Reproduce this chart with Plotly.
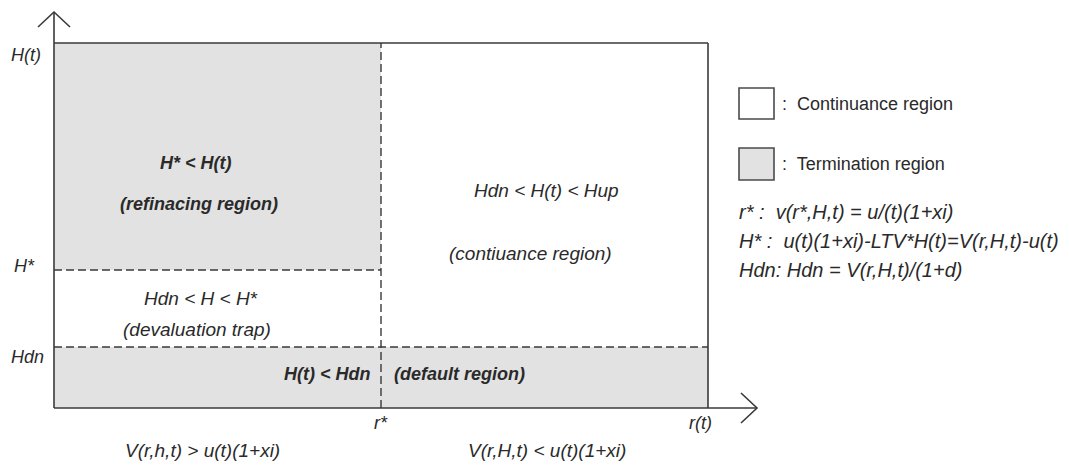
import plotly.graph_objects as go

# ---------------- data (diagram values, in axis units) ----------------
boundaries_x = {"origin": 0.0, "r_star": 0.5, "r_t": 1.0}
boundaries_y = {"origin": 0.0, "H_dn": 0.167, "H_star": 0.378, "H_t": 1.0}
axis_tick_labels_y = ["H(t)", "H*", "Hdn"]
axis_tick_labels_x = ["r*", "r(t)"]
region_labels = ["H* < H(t)", "(refinacing region)", "Hdn < H(t) < Hup", "(contiuance region)",
                 "Hdn < H < H*", "(devaluation trap)", "H(t) < Hdn", "(default region)"]
bottom_labels = ["V(r,h,t) > u(t)(1+xi)", "V(r,H,t) < u(t)(1+xi)"]
legend_labels = [":\u00a0 Continuance region", ":\u00a0 Termination region"]
formula_labels = ["r* :\u00a0 v(r*,H,t) = u/(t)(1+xi)",
                  "H* :\u00a0 u(t)(1+xi)-LTV*H(t)=V(r,H,t)-u(t)",
                  "Hdn: Hdn = V(r,H,t)/(1+d)"]

# ---------------- layout helpers ----------------
W, H = 1069, 465
OFF = 8                    # page body margin
X0PX, XSCALE = 54, 654     # screen pixel of r=0, pixels per unit
Y0PX, YSCALE = 408, 365    # screen pixel of H=0, pixels per unit


def ux(px):
    return (px - X0PX) / XSCALE


def uy(py):
    return (Y0PX - py) / YSCALE


r0, rs, rt = boundaries_x["origin"], boundaries_x["r_star"], boundaries_x["r_t"]
h0, hdn, hst, ht = (boundaries_y["origin"], boundaries_y["H_dn"],
                    boundaries_y["H_star"], boundaries_y["H_t"])

LINE = "#3a3a3a"
FILL = "#e2e2e2"
TXT = "#2a2a2a"
FONT = "Liberation Sans, Arial, sans-serif"

fig = go.Figure()

shapes = []
# shaded termination regions
shapes.append(dict(type="rect", x0=r0, x1=rs, y0=hst, y1=ht, fillcolor=FILL,
                   line=dict(width=0), layer="below"))
shapes.append(dict(type="rect", x0=r0, x1=rt, y0=h0, y1=hdn, fillcolor=FILL,
                   line=dict(width=0), layer="below"))
# solid borders
shapes.append(dict(type="line", x0=r0, x1=rt, y0=ht, y1=ht, line=dict(color=LINE, width=1.6)))
shapes.append(dict(type="line", x0=rt, x1=rt, y0=h0, y1=ht, line=dict(color=LINE, width=1.6)))
# dashed boundaries
DASH = "8px,4px"
shapes.append(dict(type="line", x0=rs, x1=rs, y0=h0, y1=ht, line=dict(color=LINE, width=1.4, dash=DASH)))
shapes.append(dict(type="line", x0=r0, x1=rs, y0=hst, y1=hst, line=dict(color=LINE, width=1.4, dash=DASH)))
shapes.append(dict(type="line", x0=r0, x1=rt, y0=hdn, y1=hdn, line=dict(color=LINE, width=1.4, dash=DASH)))

# axes with open arrow heads
y_axis_top = uy(12)
x_axis_end = ux(757)
ax_dx, ax_dy = 16 / XSCALE, 15 / YSCALE
fig.add_trace(go.Scatter(x=[r0, r0], y=[h0, y_axis_top], mode="lines",
                         line=dict(color=LINE, width=1.6), hoverinfo="skip", showlegend=False))
fig.add_trace(go.Scatter(x=[r0 - ax_dx, r0, r0 + ax_dx], y=[y_axis_top - ax_dy, y_axis_top, y_axis_top - ax_dy],
                         mode="lines", line=dict(color=LINE, width=1.6), hoverinfo="skip", showlegend=False))
fig.add_trace(go.Scatter(x=[r0, x_axis_end], y=[h0, h0], mode="lines",
                         line=dict(color=LINE, width=1.6), hoverinfo="skip", showlegend=False))
fig.add_trace(go.Scatter(x=[x_axis_end - ax_dx, x_axis_end, x_axis_end - ax_dx],
                         y=[h0 + ax_dy, h0, h0 - ax_dy],
                         mode="lines", line=dict(color=LINE, width=1.6), hoverinfo="skip", showlegend=False))

# legend boxes
shapes.append(dict(type="rect", x0=ux(739), x1=ux(774), y0=uy(88), y1=uy(119), fillcolor="white",
                   line=dict(color="#4a4a4a", width=1.6)))
shapes.append(dict(type="rect", x0=ux(739), x1=ux(774), y0=uy(148), y1=uy(180), fillcolor=FILL,
                   line=dict(color="#4a4a4a", width=1.6)))

annotations = []


def add_text(text, x, y, xanchor="center", size=18, bold=False, italic=True):
    annotations.append(dict(text=text, x=x, y=y, xref="x", yref="y", showarrow=False,
                            xanchor=xanchor, yanchor="middle",
                            font=dict(family=FONT, size=size, color=TXT,
                                      style="italic" if italic else "normal",
                                      weight="bold" if bold else "normal")))


# y-axis labels
add_text(axis_tick_labels_y[0], ux(43), uy(55), xanchor="right")
add_text(axis_tick_labels_y[1], ux(37), uy(266), xanchor="right")
add_text(axis_tick_labels_y[2], ux(46), uy(357), xanchor="right")
# x-axis labels
add_text(axis_tick_labels_x[0], rs, uy(423))
add_text(axis_tick_labels_x[1], ux(700), uy(423))
# region labels
add_text(region_labels[0], ux(196), uy(163), bold=True)
add_text(region_labels[1], ux(199), uy(204), bold=True)
add_text(region_labels[2], ux(546), uy(190), size=19)
add_text(region_labels[3], ux(530), uy(253), size=19)
add_text(region_labels[4], ux(201), uy(298), size=19)
add_text(region_labels[5], ux(197), uy(329), size=19)
add_text(region_labels[6], rs - 9 / XSCALE, uy(374), xanchor="right", bold=True)
add_text(region_labels[7], rs + 11 / XSCALE, uy(374), xanchor="left", bold=True)
# bottom condition labels
add_text(bottom_labels[0], ux(202), uy(450), size=19)
add_text(bottom_labels[1], ux(547), uy(450), size=19)

# legend texts (upright)
for lbl, py in zip(legend_labels, [104, 164]):
    add_text(lbl, ux(780), uy(py), xanchor="left", size=18, italic=False)
for lbl, py in zip(formula_labels, [212, 241, 270]):
    add_text(lbl, ux(737), uy(py), xanchor="left", size=20)

fig.update_layout(
    width=W, height=H,
    margin=dict(l=0, r=0, t=0, b=0),
    paper_bgcolor="white", plot_bgcolor="white",
    shapes=shapes, annotations=annotations,
    xaxis=dict(range=[ux(OFF), ux(W + OFF)], visible=False, fixedrange=True),
    yaxis=dict(range=[uy(H + OFF), uy(OFF)], visible=False, fixedrange=True),
    showlegend=False,
)

fig.write_html("out.html")
